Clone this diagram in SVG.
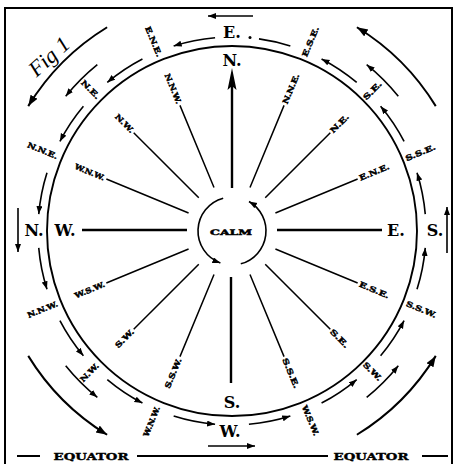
<svg xmlns="http://www.w3.org/2000/svg" width="462" height="464" viewBox="0 0 462 464">
<defs>
<style>
.frame{stroke:#000;stroke-width:2;fill:none}
.circ{stroke:#000;stroke-width:1.9;fill:none}
.spoke{stroke:#000;stroke-width:1.5;fill:none}
.card{stroke:#000;stroke-width:2.4;fill:none}
.ring{stroke:#000;stroke-width:1.6;fill:none;marker-end:url(#ah)}
.ring2{stroke:#000;stroke-width:2;fill:none;marker-end:url(#ahb)}
.big{font-family:"DejaVu Serif","Liberation Serif",serif;font-weight:bold;font-size:16px;fill:#000;text-anchor:middle}
.sm{font-family:"DejaVu Serif","Liberation Serif",serif;font-weight:bold;font-size:7.5px;fill:#000;stroke:#000;stroke-width:0.45;text-anchor:middle}
.eq{font-family:"DejaVu Serif","Liberation Serif",serif;font-weight:bold;font-size:10px;fill:#000;stroke:#000;stroke-width:0.4;text-anchor:middle}
</style>
<marker id="ah" markerUnits="userSpaceOnUse" markerWidth="10" markerHeight="8" refX="8" refY="3" orient="auto"><path d="M0,0 L8,3 L0,6 Z" fill="#000"/></marker>
<marker id="ahb" markerUnits="userSpaceOnUse" markerWidth="13" markerHeight="10" refX="11" refY="4" orient="auto"><path d="M0,0 L11,4 L0,8 Z" fill="#000"/></marker>
</defs>
<rect width="462" height="464" fill="#fff"/>
<g id="frame">
<path class="frame" d="M5,464 V8 H452 V464"/>
<path d="M17,456 H40 M137,456 H328 M422,456 H448" stroke="#000" stroke-width="2"/>
<text class="eq" x="91" y="460" textLength="75" lengthAdjust="spacingAndGlyphs">EQUATOR</text>
<text class="eq" x="371" y="460" textLength="75" lengthAdjust="spacingAndGlyphs">EQUATOR</text>
<text x="0" y="0" transform="translate(54,62) rotate(-42)" font-family="Liberation Serif, serif" font-style="italic" font-size="22" text-anchor="middle">Fig 1</text>
</g>
<g id="main-circle"><circle class="circ" cx="232" cy="231" r="185"/></g>
<g id="calm">
<text class="sm" x="231" y="234.5" font-size="9" textLength="42" lengthAdjust="spacingAndGlyphs">CALM</text>
</g>
<g id="connectors">
<path class="ring" d="M223.20,198.16 A34,34 0 0 0 220.37,262.95"/>
<path class="ring" d="M240.80,263.84 A34,34 0 0 0 249.0,201.56"/>
<path class="card" d="M232,188 V86"/>
<polygon points="232,68 236.5,90 232,86 227.5,90" fill="#000"/>
<path class="card" d="M231,277 V383 M82,230 H187 M277,230 H382"/>
<path class="spoke" d="M249.99,187.58 L284.05,105.35 M265.23,197.77 L330.29,132.71 M275.42,213.01 L357.65,178.95 M275.42,248.99 L357.65,283.05 M265.23,264.23 L330.29,329.29 M249.99,274.42 L284.05,356.65 M214.01,274.42 L179.95,356.65 M198.77,264.23 L133.71,329.29 M188.58,248.99 L106.35,283.05 M188.58,213.01 L106.35,178.95 M198.77,197.77 L133.71,132.71 M214.01,187.58 L179.95,105.35"/>
<path class="ring" d="M215.08,37.74 A194,194 0 0 0 173.66,45.98"/>
<path class="ring" d="M142.43,58.92 A194,194 0 0 0 107.30,82.40"/>
<path class="ring" d="M83.40,106.30 A194,194 0 0 0 59.92,141.43"/>
<path class="ring" d="M46.98,172.66 A194,194 0 0 0 38.74,214.08"/>
<path class="ring" d="M38.74,247.92 A194,194 0 0 0 46.98,289.34"/>
<path class="ring" d="M59.92,320.57 A194,194 0 0 0 83.40,355.70"/>
<path class="ring" d="M107.30,379.60 A194,194 0 0 0 142.43,403.08"/>
<path class="ring" d="M173.66,416.02 A194,194 0 0 0 215.08,424.26"/>
<path class="ring" d="M248.92,424.26 A194,194 0 0 0 290.34,416.02"/>
<path class="ring" d="M321.57,403.08 A194,194 0 0 0 356.70,379.60"/>
<path class="ring" d="M380.60,355.70 A194,194 0 0 0 404.08,320.57"/>
<path class="ring" d="M417.02,289.34 A194,194 0 0 0 425.26,247.92"/>
<path class="ring" d="M425.26,214.08 A194,194 0 0 0 417.02,172.66"/>
<path class="ring" d="M404.08,141.43 A194,194 0 0 0 380.60,106.30"/>
<path class="ring" d="M356.70,82.40 A194,194 0 0 0 321.57,58.92"/>
<path d="M290.34,45.98 A194,194 0 0 0 259.0,38.9" stroke="#000" stroke-width="1.6" fill="none"/>
<circle cx="250" cy="37.5" r="1.5" fill="#000"/>
<path class="ring" d="M398.30,96.33 A214,214 0 0 0 366.67,64.70"/>
<path class="ring" d="M366.67,397.30 A214,214 0 0 0 398.30,365.67"/>
<path class="ring" d="M65.70,365.67 A214,214 0 0 0 97.33,397.30"/>
<path class="ring" d="M97.33,64.70 A214,214 0 0 0 65.70,96.33"/>
<path class="ring2" d="M435.77,106.12 A239,239 0 0 0 356.88,27.23"/>
<path class="ring2" d="M356.88,434.77 A239,239 0 0 0 435.77,355.88"/>
<path class="ring2" d="M28.23,355.88 A239,239 0 0 0 107.12,434.77"/>
<path class="ring2" d="M107.12,27.23 A239,239 0 0 0 28.23,106.12"/>
<path class="ring" d="M253,16 H208"/>
<path class="ring" d="M208,446 H255"/>
<path class="ring" d="M18,208 V252"/>
<path class="ring" d="M447,253 V207"/>
</g>
<g id="inner-labels">
<text class="big" x="232" y="65.5">N.</text>
<text class="big" x="232" y="408">S.</text>
<text class="big" x="65" y="236">W.</text>
<text class="big" x="396" y="236">E.</text>
<g id="in-nne"><text class="sm" transform="translate(290.94,88.72) rotate(-67.5)" dy="2.7" textLength="32" lengthAdjust="spacingAndGlyphs">N.N.E.</text></g>
<g id="in-ne"><text class="sm" transform="translate(339.48,123.52) rotate(-45)" dy="2.7" textLength="23" lengthAdjust="spacingAndGlyphs">N.E.</text></g>
<g id="in-ene"><text class="sm" transform="translate(374.28,172.06) rotate(-22.5)" dy="2.7" textLength="32" lengthAdjust="spacingAndGlyphs">E.N.E.</text></g>
<g id="in-ese"><text class="sm" transform="translate(374.28,289.94) rotate(22.5)" dy="2.7" textLength="32" lengthAdjust="spacingAndGlyphs">E.S.E.</text></g>
<g id="in-se"><text class="sm" transform="translate(339.48,338.48) rotate(45)" dy="2.7" textLength="23" lengthAdjust="spacingAndGlyphs">S.E.</text></g>
<g id="in-sse"><text class="sm" transform="translate(290.94,373.28) rotate(67.5)" dy="2.7" textLength="32" lengthAdjust="spacingAndGlyphs">S.S.E.</text></g>
<g id="in-ssw"><text class="sm" transform="translate(173.06,373.28) rotate(-67.5)" dy="2.7" textLength="32" lengthAdjust="spacingAndGlyphs">S.S.W.</text></g>
<g id="in-sw"><text class="sm" transform="translate(124.52,338.48) rotate(-45)" dy="2.7" textLength="23" lengthAdjust="spacingAndGlyphs">S.W.</text></g>
<g id="in-wsw"><text class="sm" transform="translate(89.72,289.94) rotate(-22.5)" dy="2.7" textLength="32" lengthAdjust="spacingAndGlyphs">W.S.W.</text></g>
<g id="in-wnw"><text class="sm" transform="translate(89.72,172.06) rotate(22.5)" dy="2.7" textLength="32" lengthAdjust="spacingAndGlyphs">W.N.W.</text></g>
<g id="in-nw"><text class="sm" transform="translate(124.52,123.52) rotate(45)" dy="2.7" textLength="23" lengthAdjust="spacingAndGlyphs">N.W.</text></g>
<g id="in-nnw"><text class="sm" transform="translate(173.06,88.72) rotate(67.5)" dy="2.7" textLength="32" lengthAdjust="spacingAndGlyphs">N.N.W.</text></g>
</g>
<g id="outer-labels">
<text class="big" x="232" y="37.5">E.</text>
<text class="big" x="34" y="236">N.</text>
<text class="big" x="435" y="236">S.</text>
<text class="big" x="230" y="437">W.</text>
<g id="out-ene"><text class="sm" transform="translate(153.55,41.60) rotate(67.5)" dy="2.7" textLength="32" lengthAdjust="spacingAndGlyphs">E.N.E.</text></g>
<g id="out-ne"><text class="sm" transform="translate(90.58,89.58) rotate(45)" dy="2.7" textLength="23" lengthAdjust="spacingAndGlyphs">N.E.</text></g>
<g id="out-nne"><text class="sm" transform="translate(42.60,150.55) rotate(22.5)" dy="2.7" textLength="32" lengthAdjust="spacingAndGlyphs">N.N.E.</text></g>
<g id="out-nnw"><text class="sm" transform="translate(42.60,309.45) rotate(-22.5)" dy="2.7" textLength="32" lengthAdjust="spacingAndGlyphs">N.N.W.</text></g>
<g id="out-nw"><text class="sm" transform="translate(89.58,372.42) rotate(-45)" dy="2.7" textLength="23" lengthAdjust="spacingAndGlyphs">N.W.</text></g>
<g id="out-wnw"><text class="sm" transform="translate(151.55,421.40) rotate(-67.5)" dy="2.7" textLength="32" lengthAdjust="spacingAndGlyphs">W.N.W.</text></g>
<g id="out-wsw"><text class="sm" transform="translate(310.45,420.40) rotate(67.5)" dy="2.7" textLength="32" lengthAdjust="spacingAndGlyphs">W.S.W.</text></g>
<g id="out-sw"><text class="sm" transform="translate(372.42,371.42) rotate(45)" dy="2.7" textLength="23" lengthAdjust="spacingAndGlyphs">S.W.</text></g>
<g id="out-ssw"><text class="sm" transform="translate(421.40,309.45) rotate(22.5)" dy="2.7" textLength="32" lengthAdjust="spacingAndGlyphs">S.S.W.</text></g>
<g id="out-sse"><text class="sm" transform="translate(420.40,152.55) rotate(-22.5)" dy="2.7" textLength="32" lengthAdjust="spacingAndGlyphs">S.S.E.</text></g>
<g id="out-se"><text class="sm" transform="translate(372.42,90.58) rotate(-45)" dy="2.7" textLength="23" lengthAdjust="spacingAndGlyphs">S.E.</text></g>
<g id="out-ese"><text class="sm" transform="translate(310.45,41.60) rotate(-67.5)" dy="2.7" textLength="32" lengthAdjust="spacingAndGlyphs">E.S.E.</text></g>
</g>
</svg>
